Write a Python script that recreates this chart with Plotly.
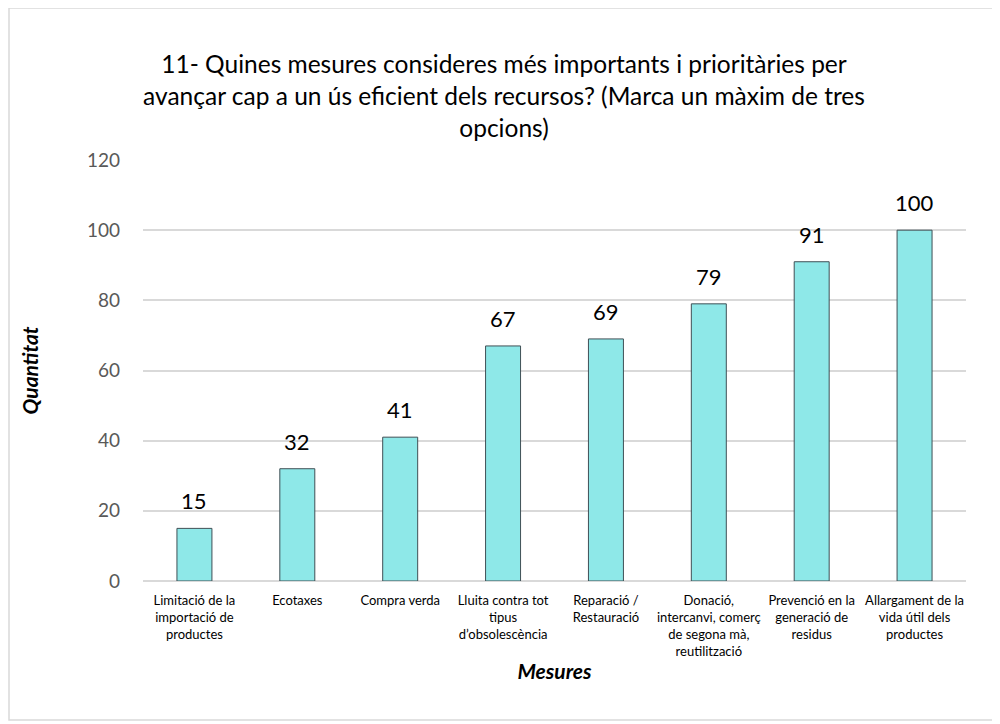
import plotly.graph_objects as go

# Survey answers, question 11
categories = [
    "Limitació de la<br>importació de<br>productes",
    "Ecotaxes",
    "Compra verda",
    "Lluita contra tot<br>tipus<br>d’obsolescència",
    "Reparació /<br>Restauració",
    "Donació,<br>intercanvi, comerç<br>de segona mà,<br>reutilització",
    "Prevenció en la<br>generació de<br>residus",
    "Allargament de la<br>vida útil dels<br>productes",
]
counts = [15, 32, 41, 67, 69, 79, 91, 100]
y_ticks = [0, 20, 40, 60, 80, 100, 120]

_BAR = "#8EE8E8"
_EDGE = "#3F4F55"
_GRID = "#D9D9D9"
_TEXT = "#595959"
_SANS = "Lato, Open Sans, sans-serif"

# the page body adds ~8px, so the figure is sized 992x716
W, H = 992, 716
L, R, T, B = 135, 34, 152, 143
pw, ph = W - L - R, H - T - B

fig = go.Figure(
    go.Bar(
        x=categories,
        y=counts,
        marker={"color": _BAR, "line": {"color": _EDGE, "width": 1}},
        hoverinfo="x+y",
    )
)

# value labels above the bars
for cat, n in zip(categories, counts):
    fig.add_annotation(
        x=cat,
        y=n,
        text=str(n),
        showarrow=False,
        yanchor="bottom",
        yshift=12,
        font={"size": 22, "color": "black", "family": _SANS},
    )

# light grey frame around the whole chart
fig.add_shape(
    type="rect",
    xref="paper",
    yref="paper",
    x0=(1 - L) / pw,
    x1=(987 - L) / pw,
    y0=(T + ph - 712) / ph,
    y1=(T + ph - 0) / ph,
    line={"color": "#D9D9D9", "width": 1.5},
    layer="below",
)

fig.update_layout(
    width=W,
    height=H,
    paper_bgcolor="white",
    plot_bgcolor="white",
    margin={"l": L, "r": R, "t": T, "b": B},
    bargap=0.66,
    showlegend=False,
    title={
        "text": "11- Quines mesures consideres més importants i prioritàries per<br>"
        "avançar cap a un ús eficient dels recursos? (Marca un màxim de tres<br>opcions)",
        "x": 0.5,
        "xanchor": "center",
        "y": 0.909,
        "yanchor": "top",
        "font": {"size": 24.5, "color": "black", "family": _SANS},
    },
    xaxis={
        "title": {
            "text": "<b><i>Mesures</i></b>",
            "font": {"size": 21, "color": "black", "family": _SANS},
            "standoff": 6,
        },
        "tickfont": {"size": 13, "color": "black", "family": _SANS},
        "ticklabelstandoff": 10,
        "showgrid": False,
        "showline": False,
        "ticks": "",
        "tickangle": 0,
    },
    yaxis={
        "title": {
            "text": "<b><i>Quantitat</i></b>",
            "font": {"size": 21, "color": "black", "family": _SANS},
            "standoff": 42,
        },
        "range": [0, 120],
        "tickvals": y_ticks,
        "tickfont": {"size": 19, "color": _TEXT, "family": _SANS},
        "ticklabelstandoff": 22,
        "gridcolor": _GRID,
        "gridwidth": 1.5,
        "zeroline": True,
        "zerolinecolor": _GRID,
        "zerolinewidth": 1.5,
        "ticks": "",
    },
)

fig.write_html("out.html")
